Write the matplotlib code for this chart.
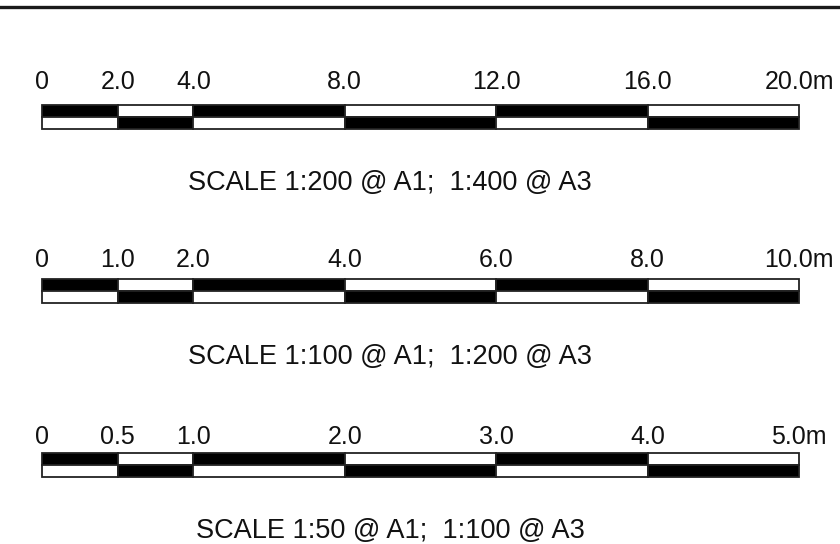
import matplotlib
matplotlib.use("Agg")
import matplotlib.pyplot as plt
from matplotlib.lines import Line2D
from matplotlib.transforms import offset_copy

plt.rcParams['font.family'] = ['Liberation Sans', 'DejaVu Sans']

# scale bar data (metres)
ticks_200 = [0, 2, 4, 8, 12, 16, 20]
ticks_100 = [0, 1, 2, 4, 6, 8, 10]
ticks_50 = [0, 0.5, 1, 2, 3, 4, 5]
labels_200 = ["0", "2.0", "4.0", "8.0", "12.0", "16.0", "20.0m"]
labels_100 = ["0", "1.0", "2.0", "4.0", "6.0", "8.0", "10.0m"]
labels_50 = ["0", "0.5", "1.0", "2.0", "3.0", "4.0", "5.0m"]
titles = ["SCALE 1:200 @ A1;  1:400 @ A3",
          "SCALE 1:100 @ A1;  1:200 @ A3",
          "SCALE 1:50 @ A1;  1:100 @ A3"]
# top row starts black and alternates, bottom row is the inverse
top_row = ["black", "white", "black", "white", "black", "white"]

W, H = 840, 544
fig = plt.figure(figsize=(W / 100, H / 100), dpi=100)

# bar top pixel rows and label gaps
bar_tops = [105, 279, 453]
label_gaps = [23, 19, 16]
bar_h = 24
x0, x1 = 42, 799

scales = [(ticks_200, labels_200), (ticks_100, labels_100), (ticks_50, labels_50)]

for i, (ticks, labels) in enumerate(scales):
    top = bar_tops[i]
    ax = fig.add_axes([x0 / W, 1 - (top + bar_h) / H, (x1 - x0) / W, bar_h / H])
    ax.set_xlim(ticks[0], ticks[-1])
    ax.set_ylim(0, 2)
    ax.axis("off")

    lefts = ticks[:-1]
    widths = [b - a for a, b in zip(ticks[:-1], ticks[1:])]
    bottom_row = ["white" if c == "black" else "black" for c in top_row]
    ax.bar(lefts, [1] * len(lefts), width=widths, bottom=1, align="edge",
           color=top_row, edgecolor="#222222", linewidth=1.3, clip_on=False)
    ax.bar(lefts, [1] * len(lefts), width=widths, bottom=0, align="edge",
           color=bottom_row, edgecolor="#222222", linewidth=1.3, clip_on=False)

    trans = offset_copy(ax.transData, fig=fig, x=0, y=label_gaps[i] * 0.72, units="points")
    for t, lab in zip(ticks, labels):
        ax.text(t, 2, lab, transform=trans, ha="center", va="center",
                fontsize=18, color="#111111")

    fig.text(390 / W, 1 - (top + bar_h + 54) / H, titles[i],
             ha="center", va="center", fontsize=19.5, color="#111111")

fig.add_artist(Line2D([0, 1], [1 - 7 / H, 1 - 7 / H], color="#1a1a1a",
                      linewidth=2.4, transform=fig.transFigure))

fig.savefig("out.png", dpi=100)
